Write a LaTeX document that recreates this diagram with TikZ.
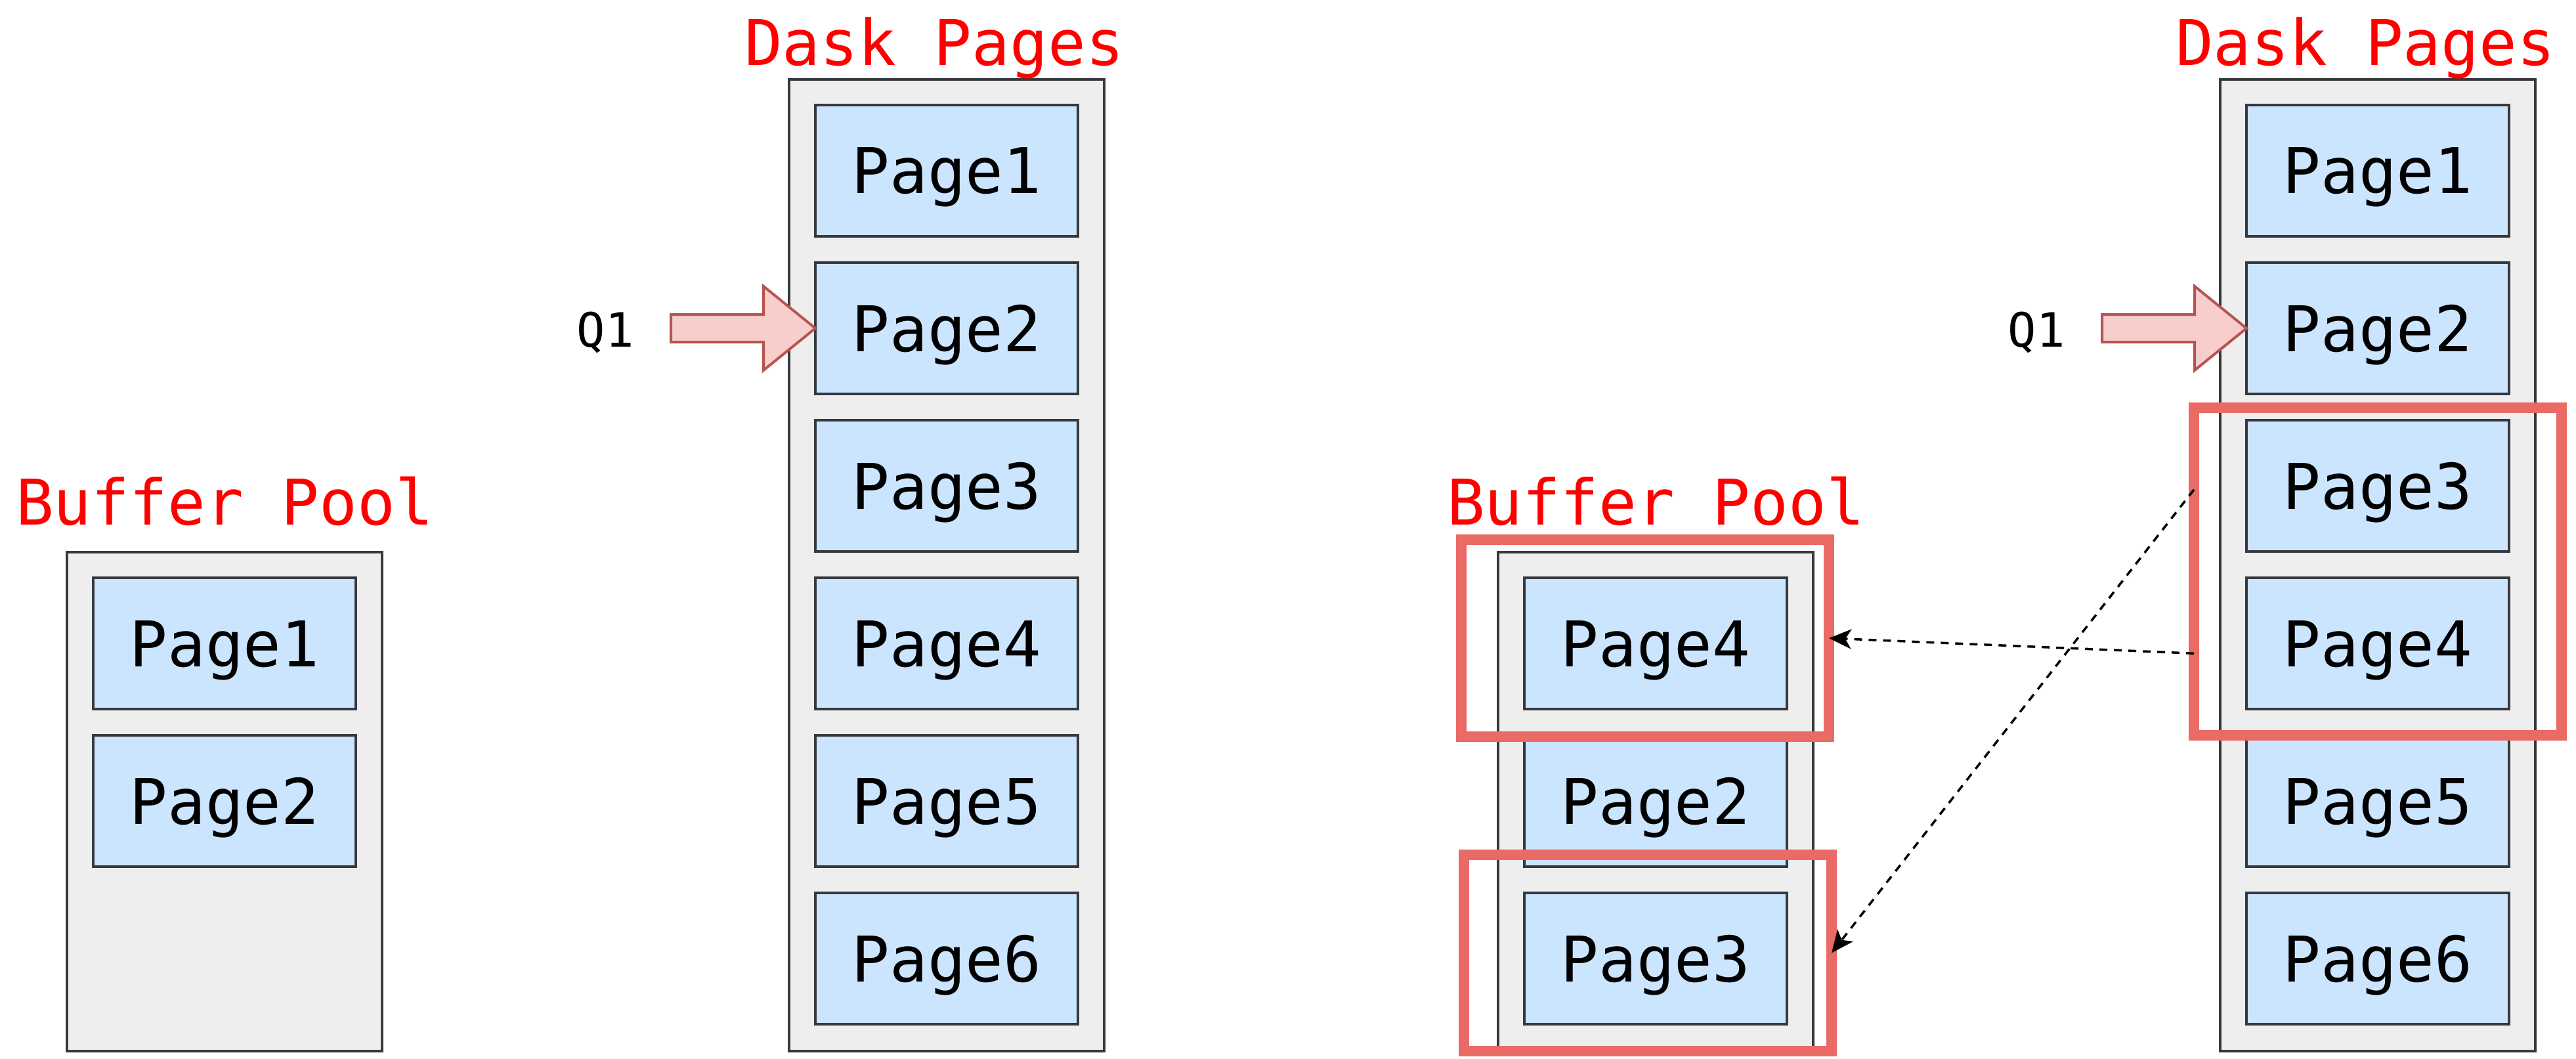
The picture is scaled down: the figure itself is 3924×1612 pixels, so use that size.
\documentclass[tikz,border=0pt]{standalone}
\usepackage{fontspec}
\newfontfamily\monof{DejaVu Sans Mono}
\usetikzlibrary{calc,arrows.meta}
\definecolor{hlred}{HTML}{EA6B66}
\definecolor{boxline}{HTML}{36393D}
\definecolor{contfill}{HTML}{EEEEEE}
\definecolor{pagefill}{HTML}{CCE5FF}
\definecolor{titlered}{HTML}{FF0000}
\definecolor{qfill}{HTML}{F8CECC}
\definecolor{qline}{HTML}{B85450}
\begin{document}
\begin{tikzpicture}[x=1pt,y=-1pt,
  container/.style={draw=boxline, fill=contfill, line width=4pt, minimum width=480pt, inner sep=0pt, outer sep=0pt},
  pagebox/.style={draw=boxline, fill=pagefill, line width=4pt, minimum width=400pt, minimum height=200pt, inner sep=0pt, outer sep=0pt, font=\monof\fontsize{96}{110}\selectfont, text depth=0pt},
  titletext/.style={text=titlered, font=\monof\fontsize{96}{110}\selectfont, anchor=base, inner sep=0pt},
  hl/.style={draw=hlred, line width=16pt, minimum width=560pt, inner sep=0pt, outer sep=0pt},
  qlabel/.style={font=\monof\fontsize{72}{86}\selectfont, anchor=base, inner sep=0pt},
  qarrow/.style={draw=qline, fill=qfill, line width=4pt, line join=miter},
  copyarrow/.style={draw=black, line width=3.5pt, dash pattern=on 12pt off 10pt, -{Stealth[length=34pt,width=30pt,inset=9pt]}}
]
\fill[white] (0,0) rectangle (3924,1612);
\useasboundingbox (0,0) rectangle (3924,1612);

% ---------- left half ----------
\node[container, minimum height=760pt] (bpL) at (342,1221) {};
\node[pagebox] (bpL1) at (342,980) {Page1};
\node[pagebox] (bpL2) at (342,1220) {Page2};
\node[titletext] (bpLt) at (342,799) {Buffer Pool};

\node[container, minimum height=1480pt] (dkL) at (1442,861) {};
\foreach \i/\y in {1/260,2/500,3/740,4/980,5/1220,6/1460}
  \node[pagebox] (dkL\i) at (1442,\y) {Page\i};
\node[titletext] (dkLt) at (1423,99) {Dask Pages};

\node[qlabel] (qL) at (922,528) {Q1};
\draw[qarrow] ($(dkL2.west)+(-220,-21)$) -- ++(141,0) -- ++(0,-43) -- (dkL2.west)
  -- ++(-79,64) -- ++(0,-43) -- ++(-141,0) -- cycle;

% ---------- right half ----------
\node[container, minimum height=760pt] (bpR) at (2522,1221) {};
\node[pagebox] (bpR4) at (2522,980) {Page4};
\node[pagebox] (bpR2) at (2522,1220) {Page2};
\node[pagebox] (bpR3) at (2522,1460) {Page3};
\node[titletext] (bpRt) at (2522,799) {Buffer Pool};

\node[container, minimum height=1480pt] (dkR) at (3622,861) {};
\foreach \i/\y in {1/260,2/500,3/740,4/980,5/1220,6/1460}
  \node[pagebox] (dkR\i) at (3622,\y) {Page\i};
\node[titletext] (dkRt) at (3603,99) {Dask Pages};

\node[qlabel] (qR) at (3102,528) {Q1};
\draw[qarrow] ($(dkR2.west)+(-220,-21)$) -- ++(141,0) -- ++(0,-43) -- (dkR2.west)
  -- ++(-79,64) -- ++(0,-43) -- ++(-141,0) -- cycle;

% highlight frames
\node[hl, minimum height=300pt] (hlA) at (2506,972) {};
\node[hl, minimum height=299pt] (hlB) at (2510,1451.5) {};
\node[hl, minimum height=499pt] (hlR) at (3622,870.5) {};

% copy arrows
\coordinate (srcA) at ($(hlR.south west)!0.25!(hlR.north west)$);
\coordinate (srcB) at ($(hlR.north west)!0.25!(hlR.south west)$);
\draw[copyarrow] (srcA) -- (hlA.east);
\draw[copyarrow] (srcB) -- (hlB.east);
\end{tikzpicture}
\end{document}
